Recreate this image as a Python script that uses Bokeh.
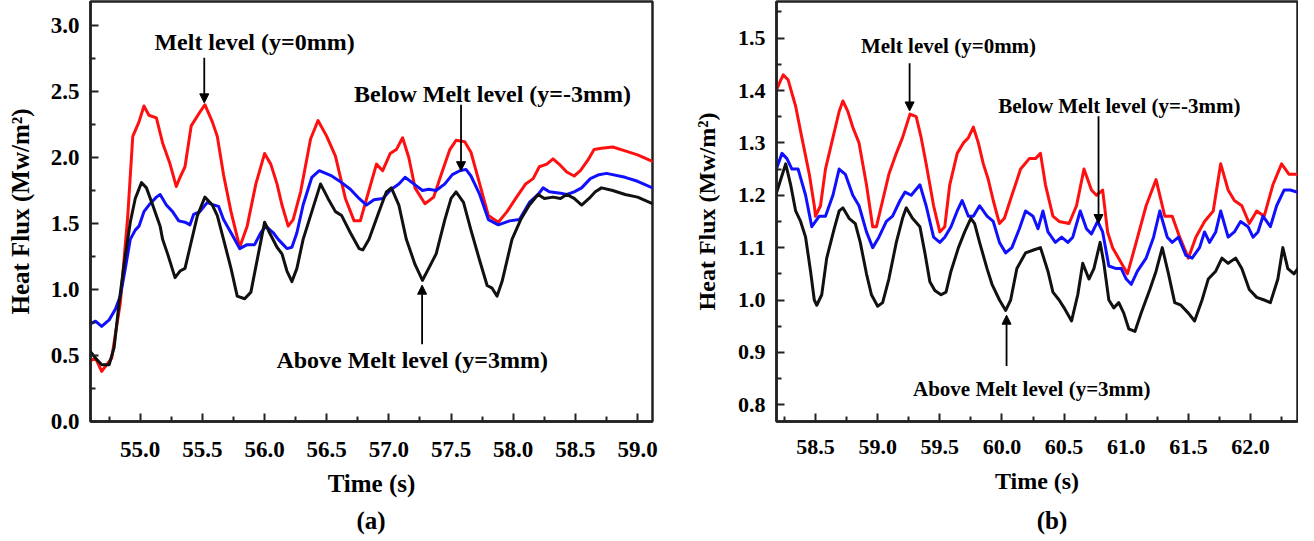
from bokeh.plotting import figure
from bokeh.layouts import row, column
from bokeh.models import FixedTicker, PrintfTickFormatter, Label, Arrow, NormalHead, Range1d, Div, Spacer
from bokeh.embed import file_html
from bokeh.resources import INLINE

FONT = "Liberation Serif"

# ---------------- Panel (a) data ----------------
a_red_t = [54.6, 54.64, 54.69, 54.77, 54.84, 54.9, 54.94, 54.99, 55.03, 55.07, 55.13, 55.18, 55.24, 55.29, 55.32,
           55.36, 55.41, 55.47, 55.52, 55.58, 55.62, 55.67, 55.73, 55.80, 55.86, 55.93, 56.0, 56.05, 56.10, 56.14,
           56.19, 56.23, 56.29, 56.37, 56.43, 56.5, 56.57, 56.65, 56.72, 56.77, 56.83, 56.90, 56.95, 57.01, 57.06,
           57.11, 57.16, 57.21, 57.29, 57.36, 57.42, 57.49, 57.54, 57.61, 57.66, 57.73, 57.80, 57.88, 57.95, 58.02,
           58.10, 58.16, 58.21, 58.27, 58.32, 58.38, 58.43, 58.49, 58.54, 58.60, 58.65, 58.71, 58.8, 58.9, 59.0, 59.12]
a_red_v = [0.46, 0.48, 0.38, 0.48, 0.90, 1.56, 2.16, 2.27, 2.39, 2.32, 2.30, 2.11, 1.95, 1.78, 1.85,
           1.93, 2.24, 2.33, 2.40, 2.27, 2.16, 1.87, 1.59, 1.32, 1.48, 1.80, 2.03, 1.95, 1.80, 1.64,
           1.48, 1.53, 1.74, 2.14, 2.28, 2.16, 2.01, 1.69, 1.52, 1.52, 1.72, 1.95, 1.90, 2.03, 2.06,
           2.15, 2.0, 1.77, 1.65, 1.70, 1.87, 2.06, 2.13, 2.12, 2.04, 1.80, 1.56, 1.51, 1.59, 1.69,
           1.80, 1.84, 1.93, 1.95, 1.99, 1.94, 1.89, 1.86, 1.90, 1.98, 2.06, 2.07, 2.08, 2.05, 2.02, 1.97]

a_blue_t = [54.6, 54.64, 54.69, 54.75, 54.8, 54.84, 54.88, 54.92, 54.96, 54.99, 55.03, 55.07, 55.13, 55.16, 55.21,
            55.26, 55.31, 55.36, 55.40, 55.43, 55.48, 55.54, 55.59, 55.63, 55.67, 55.73, 55.80, 55.86, 55.92, 55.97,
            56.01, 56.07, 56.11, 56.15, 56.18, 56.22, 56.26, 56.31, 56.38, 56.44, 56.54, 56.62, 56.69, 56.76, 56.82,
            56.88, 56.95, 57.02, 57.08, 57.13, 57.20, 57.27, 57.32, 57.38, 57.45, 57.51, 57.57, 57.62, 57.66, 57.73,
            57.80, 57.88, 57.97, 58.05, 58.13, 58.20, 58.24, 58.29, 58.38, 58.43, 58.49, 58.55, 58.62, 58.69, 58.75,
            58.9, 59.0, 59.12]
a_blue_v = [0.74, 0.76, 0.72, 0.77, 0.85, 0.95, 1.16, 1.38, 1.45, 1.48, 1.59, 1.64, 1.70, 1.72, 1.64,
            1.59, 1.52, 1.51, 1.49, 1.57, 1.59, 1.66, 1.64, 1.63, 1.53, 1.43, 1.31, 1.34, 1.34, 1.43,
            1.48, 1.43, 1.38, 1.34, 1.31, 1.32, 1.43, 1.64, 1.85, 1.90, 1.86, 1.81, 1.76, 1.69, 1.64,
            1.68, 1.69, 1.76, 1.80, 1.85, 1.80, 1.75, 1.76, 1.75, 1.80, 1.87, 1.90, 1.91, 1.86, 1.72,
            1.53, 1.49, 1.52, 1.53, 1.66, 1.72, 1.77, 1.74, 1.73, 1.72, 1.74, 1.77, 1.84, 1.87, 1.88,
            1.85, 1.82, 1.77]

a_black_t = [54.6, 54.64, 54.69, 54.75, 54.79, 54.83, 54.87, 54.92, 54.96, 55.01, 55.05, 55.10, 55.16, 55.18, 55.22,
             55.28, 55.32, 55.36, 55.40, 55.46, 55.52, 55.58, 55.62, 55.67, 55.73, 55.78, 55.84, 55.89, 55.95, 56.0,
             56.04, 56.10, 56.14, 56.18, 56.22, 56.26, 56.31, 56.38, 56.45, 56.51, 56.57, 56.62, 56.69, 56.76, 56.79,
             56.84, 56.92, 56.98, 57.02, 57.08, 57.14, 57.21, 57.27, 57.32, 57.38, 57.45, 57.50, 57.54, 57.60, 57.66,
             57.73, 57.79, 57.83, 57.87, 57.91, 57.99, 58.06, 58.13, 58.20, 58.25, 58.32, 58.38, 58.43, 58.49, 58.55,
             58.61, 58.66, 58.71, 58.8, 58.9, 59.0, 59.12]
a_black_v = [0.53, 0.48, 0.43, 0.43, 0.56, 0.90, 1.19, 1.51, 1.69, 1.81, 1.77, 1.64, 1.48, 1.38, 1.27,
             1.09, 1.14, 1.16, 1.32, 1.56, 1.70, 1.64, 1.56, 1.38, 1.16, 0.95, 0.93, 0.98, 1.27, 1.51,
             1.43, 1.32, 1.27, 1.14, 1.06, 1.16, 1.38, 1.59, 1.80, 1.69, 1.59, 1.56, 1.43, 1.31, 1.30,
             1.38, 1.59, 1.74, 1.77, 1.64, 1.38, 1.19, 1.07, 1.16, 1.27, 1.53, 1.69, 1.74, 1.66, 1.45,
             1.22, 1.03, 1.01, 0.95, 1.06, 1.38, 1.53, 1.64, 1.72, 1.69, 1.70, 1.69, 1.72, 1.69, 1.64,
             1.69, 1.74, 1.77, 1.75, 1.72, 1.70, 1.65]

a_xticks = [55.0, 55.5, 56.0, 56.5, 57.0, 57.5, 58.0, 58.5, 59.0]
a_yticks = [0.0, 0.5, 1.0, 1.5, 2.0, 2.5, 3.0]

# ---------------- Panel (b) data ----------------
b_red_t = [58.18, 58.22, 58.24, 58.28, 58.34, 58.39, 58.45, 58.49, 58.5, 58.54, 58.58, 58.64, 58.69, 58.72, 58.76,
           58.80, 58.85, 58.91, 58.96, 58.99, 59.04, 59.09, 59.15, 59.20, 59.26, 59.31, 59.35, 59.39, 59.45, 59.5,
           59.54, 59.58, 59.64, 59.69, 59.73, 59.77, 59.81, 59.85, 59.89, 59.93, 59.98, 60.02, 60.08, 60.15, 60.22,
           60.27, 60.31, 60.35, 60.41, 60.46, 60.54, 60.60, 60.66, 60.72, 60.76, 60.81, 60.85, 60.89, 60.95, 61.01,
           61.08, 61.16, 61.24, 61.31, 61.37, 61.43, 61.50, 61.56, 61.63, 61.70, 61.76, 61.82, 61.87, 61.93, 61.99,
           62.05, 62.11, 62.18, 62.25, 62.31, 62.39]
b_red_v = [1.398, 1.42, 1.43, 1.42, 1.37, 1.31, 1.24, 1.18, 1.16, 1.18, 1.25, 1.31, 1.36, 1.38, 1.36,
           1.33, 1.30, 1.22, 1.14, 1.14, 1.19, 1.24, 1.28, 1.31, 1.355, 1.35, 1.31, 1.26, 1.18, 1.13,
           1.14, 1.22, 1.28, 1.30, 1.31, 1.33, 1.30, 1.26, 1.23, 1.19, 1.146, 1.156, 1.20, 1.25, 1.27,
           1.27, 1.28, 1.22, 1.16, 1.15, 1.146, 1.18, 1.25, 1.21, 1.20, 1.21, 1.13, 1.10, 1.075, 1.05,
           1.11, 1.18, 1.23, 1.16, 1.16, 1.12, 1.08, 1.12, 1.15, 1.17, 1.26, 1.21, 1.19, 1.18, 1.146,
           1.17, 1.16, 1.22, 1.26, 1.24, 1.24]

b_blue_t = [58.18, 58.23, 58.27, 58.31, 58.36, 58.42, 58.47, 58.53, 58.58, 58.64, 58.69, 58.74, 58.80, 58.85, 58.91,
            58.96, 59.01, 59.07, 59.12, 59.18, 59.22, 59.27, 59.34, 59.39, 59.45, 59.5, 59.54, 59.59, 59.64, 59.68,
            59.73, 59.77, 59.82, 59.88, 59.93, 59.98, 60.03, 60.08, 60.14, 60.19, 60.25, 60.29, 60.33, 60.37, 60.43,
            60.48, 60.53, 60.57, 60.63, 60.68, 60.72, 60.77, 60.81, 60.86, 60.92, 60.96, 61.00, 61.04, 61.09, 61.16,
            61.22, 61.27, 61.33, 61.37, 61.42, 61.48, 61.53, 61.59, 61.63, 61.67, 61.72, 61.76, 61.82, 61.87, 61.92,
            61.98, 62.02, 62.06, 62.10, 62.16, 62.21, 62.27, 62.32, 62.39]
b_blue_v = [1.247, 1.28, 1.27, 1.25, 1.25, 1.20, 1.14, 1.16, 1.16, 1.20, 1.25, 1.24, 1.20, 1.18, 1.13,
            1.10, 1.12, 1.15, 1.16, 1.19, 1.206, 1.20, 1.22, 1.18, 1.12, 1.11, 1.12, 1.14, 1.17, 1.19,
            1.16, 1.16, 1.18, 1.16, 1.15, 1.11, 1.09, 1.10, 1.136, 1.17, 1.16, 1.136, 1.17, 1.13, 1.11,
            1.12, 1.11, 1.12, 1.17, 1.136, 1.126, 1.15, 1.13, 1.065, 1.06, 1.06, 1.04, 1.03, 1.055, 1.08,
            1.12, 1.17, 1.12, 1.11, 1.12, 1.085, 1.08, 1.10, 1.13, 1.11, 1.13, 1.17, 1.12, 1.13, 1.15,
            1.14, 1.12, 1.13, 1.16, 1.14, 1.18, 1.21, 1.21, 1.205]

b_black_t = [58.18, 58.22, 58.26, 58.30, 58.34, 58.38, 58.42, 58.46, 58.49, 58.51, 58.55, 58.59, 58.65, 58.69, 58.72,
             58.77, 58.82, 58.86, 58.91, 58.95, 59.0, 59.04, 59.09, 59.15, 59.20, 59.23, 59.28, 59.34, 59.38, 59.42,
             59.46, 59.51, 59.55, 59.59, 59.65, 59.70, 59.75, 59.78, 59.82, 59.88, 59.92, 59.98, 60.03, 60.07, 60.12,
             60.19, 60.26, 60.31, 60.37, 60.41, 60.46, 60.50, 60.56, 60.61, 60.65, 60.70, 60.74, 60.79, 60.82, 60.86,
             60.90, 60.94, 60.98, 61.02, 61.07, 61.12, 61.19, 61.24, 61.29, 61.34, 61.39, 61.44, 61.50, 61.55, 61.61,
             61.66, 61.72, 61.77, 61.82, 61.88, 61.93, 61.99, 62.05, 62.11, 62.16, 62.22, 62.26, 62.30, 62.35, 62.38,
             62.40]
b_black_v = [1.20, 1.23, 1.26, 1.22, 1.17, 1.15, 1.12, 1.055, 1.00, 0.99, 1.01, 1.08, 1.136, 1.17, 1.176,
             1.156, 1.146, 1.11, 1.05, 1.01, 0.988, 0.995, 1.04, 1.11, 1.156, 1.176, 1.156, 1.14, 1.09, 1.035,
             1.018, 1.01, 1.015, 1.055, 1.10, 1.13, 1.156, 1.146, 1.11, 1.06, 1.03, 1.00, 0.98, 1.00, 1.06,
             1.09, 1.096, 1.10, 1.055, 1.015, 1.00, 0.985, 0.96, 1.01, 1.07, 1.04, 1.06, 1.11, 1.07, 1.00,
             0.985, 0.995, 0.975, 0.945, 0.94, 0.975, 1.02, 1.055, 1.10, 1.05, 0.995, 0.99, 0.975, 0.96, 1.00,
             1.04, 1.055, 1.08, 1.07, 1.08, 1.06, 1.02, 1.005, 1.00, 0.995, 1.04, 1.10, 1.06, 1.05, 1.06,
             1.04]

b_xticks = [58.5, 59.0, 59.5, 60.0, 60.5, 61.0, 61.5, 62.0]
b_yticks = [0.8, 0.9, 1.0, 1.1, 1.2, 1.3, 1.4, 1.5]

label_top = "Melt level (y=0mm)"
label_below = "Below Melt level (y=-3mm)"
label_above = "Above Melt level (y=3mm)"
panel_names = ["(a)", "(b)"]


def minor_of(ticks):
    step = ticks[1] - ticks[0]
    out = [ticks[0] - step / 2] + [t + step / 2 for t in ticks]
    return out


def make_fig(width, height, xr, yr, xticks, yticks, bl, bt, bb, br, tick_fs, lab_fs,
             xtick_std, xlab_std, ylab_std):
    p = figure(width=width, height=height, x_range=Range1d(*xr), y_range=Range1d(*yr),
               output_backend="svg", toolbar_location=None,
               min_border_left=bl, min_border_top=bt, min_border_bottom=bb, min_border_right=br)
    p.xgrid.visible = False
    p.ygrid.visible = False
    p.outline_line_color = "#222222"
    p.outline_line_width = 2.5
    p.outline_line_alpha = 1.0
    p.xaxis.ticker = FixedTicker(ticks=xticks, minor_ticks=minor_of(xticks))
    p.yaxis.ticker = FixedTicker(ticks=yticks, minor_ticks=minor_of(yticks))
    for ax in (p.xaxis[0], p.yaxis[0]):
        ax.formatter = PrintfTickFormatter(format="%.1f")
        ax.axis_line_width = 2.5
        ax.axis_line_color = "#222222"
        ax.major_tick_in = 8
        ax.major_tick_out = 0
        ax.minor_tick_in = 5
        ax.minor_tick_out = 0
        ax.major_tick_line_width = 2
        ax.minor_tick_line_width = 2
        ax.major_tick_line_color = "#222222"
        ax.minor_tick_line_color = "#222222"
        ax.major_label_text_font = FONT
        ax.major_label_text_font_style = "bold"
        ax.major_label_text_font_size = tick_fs
        ax.major_label_text_color = "black"
        ax.axis_label_text_font = FONT
        ax.axis_label_text_font_style = "bold"
        ax.axis_label_text_font_size = lab_fs
        ax.axis_label_text_color = "black"
    p.xaxis.major_label_standoff = xtick_std
    p.yaxis.major_label_standoff = 11
    p.xaxis.axis_label = "Time (s)"
    p.xaxis.axis_label_standoff = xlab_std
    p.yaxis.axis_label = "Heat Flux (Mw/m²)"
    p.yaxis.axis_label_standoff = ylab_std
    return p


def add_line(p, t, v, color):
    n = min(len(t), len(v))
    p.line(t[:n], v[:n], line_color=color, line_width=3, line_join="round", line_cap="round")


def add_note(p, x, y, text, fs, align="left"):
    p.add_layout(Label(x=x, y=y, text=text, text_font=FONT, text_font_style="bold",
                       text_font_size=fs, text_color="black", text_align=align, text_baseline="middle"))


def add_arrow(p, x0, y0, x1, y1):
    p.add_layout(Arrow(end=NormalHead(size=9, fill_color="black", line_color="black", line_width=1),
                       x_start=x0, y_start=y0, x_end=x1, y_end=y1, line_color="black", line_width=1.8))


def panel_div(text):
    return Div(text=text, width=100, height=18,
               styles={"font-family": FONT, "font-weight": "bold", "font-size": "25px",
                       "line-height": "18px", "text-align": "center", "color": "black",
                       "overflow": "visible"})


# Panel (a)
pa = make_fig(660, 507, (54.6, 59.12), (0.0, 3.182), a_xticks, a_yticks,
              90, 1, 86, 8, "23px", "25px", 20, 10, 14)
add_line(pa, a_red_t, a_red_v, "#ff1010")
add_line(pa, a_blue_t, a_blue_v, "#1010ff")
add_line(pa, a_black_t, a_black_v, "#111111")
add_note(pa, 55.114, 2.874, label_top, "24px")
add_arrow(pa, 55.515, 2.756, 55.515, 2.414)
add_note(pa, 56.72, 2.48, label_below, "24px")
add_arrow(pa, 57.58, 2.40, 57.58, 1.90)
add_note(pa, 56.095, 0.468, label_above, "24px")
add_arrow(pa, 57.267, 0.586, 57.267, 1.033)

# Panel (b)
pb = make_fig(638, 507, (58.186, 62.378), (0.768, 1.570), b_xticks, b_yticks,
              116, 0, 83, 1, "22px", "24px", 18, 11, 15)
add_line(pb, b_red_t, b_red_v, "#ff1010")
add_line(pb, b_blue_t, b_blue_v, "#1010ff")
add_line(pb, b_black_t, b_black_v, "#111111")
add_note(pb, 58.865, 1.485, label_top, "21px")
add_arrow(pb, 59.257, 1.452, 59.257, 1.361)
add_note(pb, 59.97, 1.371, label_below, "21px")
add_arrow(pb, 60.777, 1.351, 60.777, 1.146)
add_note(pb, 59.284, 0.830, label_above, "21px")
add_arrow(pb, 60.037, 0.874, 60.037, 0.971)

captions = row(Spacer(width=316, height=18), panel_div(panel_names[0]),
               Spacer(width=571, height=18), panel_div(panel_names[1]))
layout = column(row(pa, pb), captions)
open("out.html", "w").write(file_html(layout, INLINE))
